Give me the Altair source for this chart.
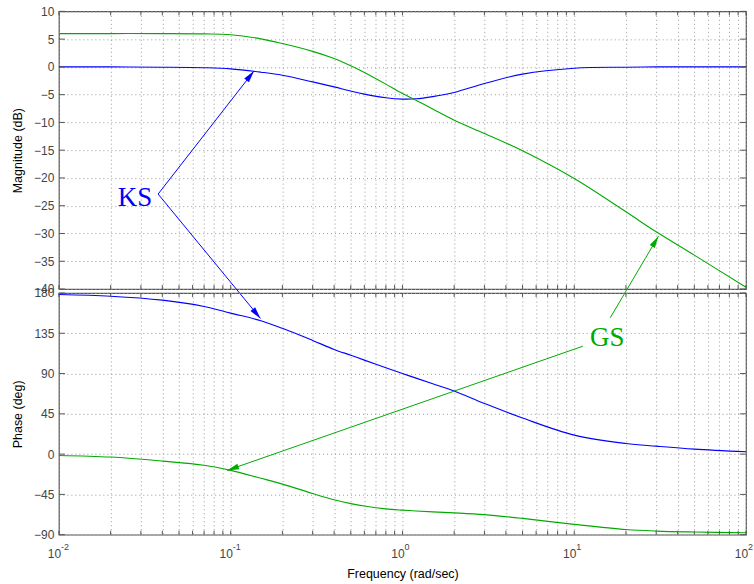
import altair as alt
import pandas as pd

# ---------------- data ----------------
freq = [0.01, 0.02, 0.04, 0.07, 0.1, 0.15, 0.2, 0.3, 0.4, 0.5, 0.6, 0.8, 1.0, 1.2, 1.5, 2, 3, 5, 10, 20, 30, 50, 100]
ks_mag = [0.0, 0.0, -0.05, -0.15, -0.35, -0.95, -1.5, -2.7, -3.6, -4.35, -4.9, -5.55, -5.8, -5.75, -5.35, -4.6, -3.0, -1.3, -0.25, -0.05, 0.0, 0.0, 0.0]
gs_mag = [6.0, 6.0, 6.0, 5.95, 5.8, 5.05, 4.2, 2.8, 1.5, 0.2, -1.0, -3.1, -4.8, -6.0, -7.6, -9.6, -12.0, -15.1, -20.1, -26.1, -29.7, -33.9, -39.7]
ks_phase = [178.3, 176.4, 172.0, 165.0, 157.5, 149.0, 140.5, 127.0, 117.0, 110.5, 105.0, 96.6, 90.0, 84.9, 78.6, 70.5, 56.6, 40.3, 21.2, 11.9, 8.9, 5.6, 2.6]
gs_phase = [-1.5, -3.3, -7.8, -12.5, -18.2, -27.0, -33.5, -44.0, -51.0, -55.3, -58.0, -61.2, -62.6, -63.5, -64.5, -65.6, -67.6, -71.8, -78.5, -84.3, -86.0, -87.0, -87.8]

series_names = ["KS", "GS"]
series_colors = ["#0000ff", "#00aa00"]

mag_ticks = [-40, -35, -30, -25, -20, -15, -10, -5, 0, 5, 10]
phase_ticks = [-90, -45, 0, 45, 90, 135, 180]
x_ticks = [0.01, 0.02, 0.03, 0.04, 0.05, 0.06, 0.07, 0.08, 0.09,
           0.1, 0.2, 0.3, 0.4, 0.5, 0.6, 0.7, 0.8, 0.9,
           1, 2, 3, 4, 5, 6, 7, 8, 9,
           10, 20, 30, 40, 50, 60, 70, 80, 90, 100]
decades = [0.01, 0.1, 1, 10, 100]
exponents = ["-2", "-1", "0", "1", "2"]

# annotations (data coordinates)
ks_label = {"x": [0.0277], "y": [-25.1], "t": ["KS"]}
ks_arrows = {"x1": [0.0378, 0.0378], "y1": [-22.9, -22.9],
             "x2": [0.1366, 0.149], "y2": [-0.74, -45.3], "ang": [37.9, 140.5]}
gs_label = {"x": [15.56], "y": [120.3], "t": ["GS"]}
gs_arrows = {"x1": [16.2, 11.23], "y1": [152.3, 120.6],
             "x2": [30.9, 0.0952], "y2": [243.4, -18.2], "ang": [30.6, 250.8]}

# ---------------- layout constants ----------------
W, H1, H2 = 688, 278, 242
FRAME = "#555555"
GRID = "#9a9a9a"
TICKLEN = 4
ARROW = "M0,0L-0.6,2.4L0.6,2.4Z"

mag_df = pd.DataFrame({"freq": freq * 2, "val": ks_mag + gs_mag,
                       "series": ["KS"] * len(freq) + ["GS"] * len(freq)})
ph_df = pd.DataFrame({"freq": freq * 2, "val": ks_phase + gs_phase,
                      "series": ["KS"] * len(freq) + ["GS"] * len(freq)})
xt_df = pd.DataFrame({"freq": x_ticks})
mt_df = pd.DataFrame({"val": mag_ticks})
pt_df = pd.DataFrame({"val": phase_ticks})
exp_df = pd.DataFrame({"freq": decades, "e": exponents})

xscale = alt.Scale(type="log", domain=[0.01, 100], nice=False)
color = alt.Color("series:N", scale=alt.Scale(domain=series_names, range=series_colors), legend=None)

label_expr = "abs(log(datum.value)/LN10 - round(log(datum.value)/LN10)) < 0.001 ? '10' : ''"


def x_axis(show_labels):
    kw = dict(values=x_ticks, ticks=False, domain=False, grid=True,
              gridColor=GRID, gridDash=[1, 3], gridWidth=1, labelOverlap=False)
    if show_labels:
        kw.update(labels=True, labelExpr=label_expr, labelFlush=False, labelOffset=-5,
                  labelPadding=14, labelFontSize=12, labelColor="#444444",
                  labelFont="Liberation Sans", title="Frequency  (rad/sec)", titleFontSize=12.5,
                  titleFont="Liberation Sans", titleFontWeight="normal",
                  titleColor="#000000", titlePadding=8)
    else:
        kw.update(labels=False, title=None)
    return alt.Axis(**kw)


def y_axis(values, title):
    return alt.Axis(values=values, ticks=False, domain=False, grid=True,
                    gridColor=GRID, gridDash=[1, 3], gridWidth=1,
                    labelFontSize=12, labelColor="#444444", labelFont="Liberation Sans",
                    labelPadding=5, labelOverlap=False, labelFlush=False,
                    title=title, titleFontSize=12.5, titleFont="Liberation Sans",
                    titleFontWeight="normal", titleColor="#000000", titlePadding=9)


def panel(df, yscale, yvalues, ytitle, h, tdf, show_x, arrows, label, lcolor):
    xax = x_axis(show_x)
    yax = y_axis(yvalues, ytitle)
    lines = alt.Chart(df).mark_line(strokeWidth=1.1, interpolate="catmull-rom").encode(
        x=alt.X("freq:Q", scale=xscale, axis=xax),
        y=alt.Y("val:Q", scale=yscale, axis=yax),
        color=color,
        detail="series:N",
    )
    xf = alt.X("freq:Q", scale=xscale, axis=xax)
    tick_top = alt.Chart(xt_df).mark_rule(color=FRAME, strokeWidth=1).encode(
        x=xf, y=alt.value(0), y2=alt.value(TICKLEN))
    tick_bot = alt.Chart(xt_df).mark_rule(color=FRAME, strokeWidth=1).encode(
        x=xf, y=alt.value(h), y2=alt.value(h - TICKLEN))
    yf = alt.Y("val:Q", scale=yscale, axis=yax)
    tick_l = alt.Chart(tdf).mark_rule(color=FRAME, strokeWidth=1).encode(
        y=yf, x=alt.value(0), x2=alt.value(TICKLEN + 2))
    tick_r = alt.Chart(tdf).mark_rule(color=FRAME, strokeWidth=1).encode(
        y=yf, x=alt.value(W), x2=alt.value(W - TICKLEN - 2))

    adf = pd.DataFrame(arrows)
    shafts = alt.Chart(adf).mark_rule(color=lcolor, strokeWidth=1).encode(
        x=alt.X("x1:Q", scale=xscale, axis=xax),
        y=alt.Y("y1:Q", scale=yscale, axis=yax),
        x2="x2:Q", y2="y2:Q")
    heads = alt.Chart(adf).mark_point(shape=ARROW, filled=True, color=lcolor,
                                      opacity=1, size=100, strokeWidth=0).encode(
        x=alt.X("x2:Q", scale=xscale, axis=xax),
        y=alt.Y("y2:Q", scale=yscale, axis=yax),
        angle=alt.Angle("ang:Q", scale=None))
    ldf = pd.DataFrame(label)
    text = alt.Chart(ldf).mark_text(font="Liberation Serif", fontSize=27, color=lcolor,
                                    align="center", baseline="alphabetic").encode(
        x=alt.X("x:Q", scale=xscale, axis=xax),
        y=alt.Y("y:Q", scale=yscale, axis=yax),
        text="t:N")
    layers = [lines, tick_top, tick_bot, tick_l, tick_r, shafts, heads, text]
    if show_x:
        exps = alt.Chart(exp_df).mark_text(font="Liberation Sans", fontSize=9,
                                           color="#444444", align="left",
                                           baseline="alphabetic", dx=2).encode(
            x=xf, y=alt.value(h + 15), text="e:N")
        layers.append(exps)
    return alt.layer(*layers).properties(width=W, height=h)


mag_scale = alt.Scale(domain=[-40, 10], nice=False, zero=False)
ph_scale = alt.Scale(domain=[-90, 180], nice=False, zero=False)

top = panel(mag_df, mag_scale, mag_ticks, "Magnitude (dB)", H1, mt_df, False,
            ks_arrows, ks_label, series_colors[0])
bottom = panel(ph_df, ph_scale, phase_ticks, "Phase (deg)", H2, pt_df, True,
               gs_arrows, gs_label, series_colors[1])

chart = alt.vconcat(top, bottom, spacing=4, bounds="flush").configure_view(
    stroke=FRAME, strokeWidth=1.2
).properties(
    padding={"left": 11, "top": 4, "right": 0, "bottom": 0},
    background="white",
)

chart.save("out.html", embed_options={"renderer": "svg", "actions": False})
